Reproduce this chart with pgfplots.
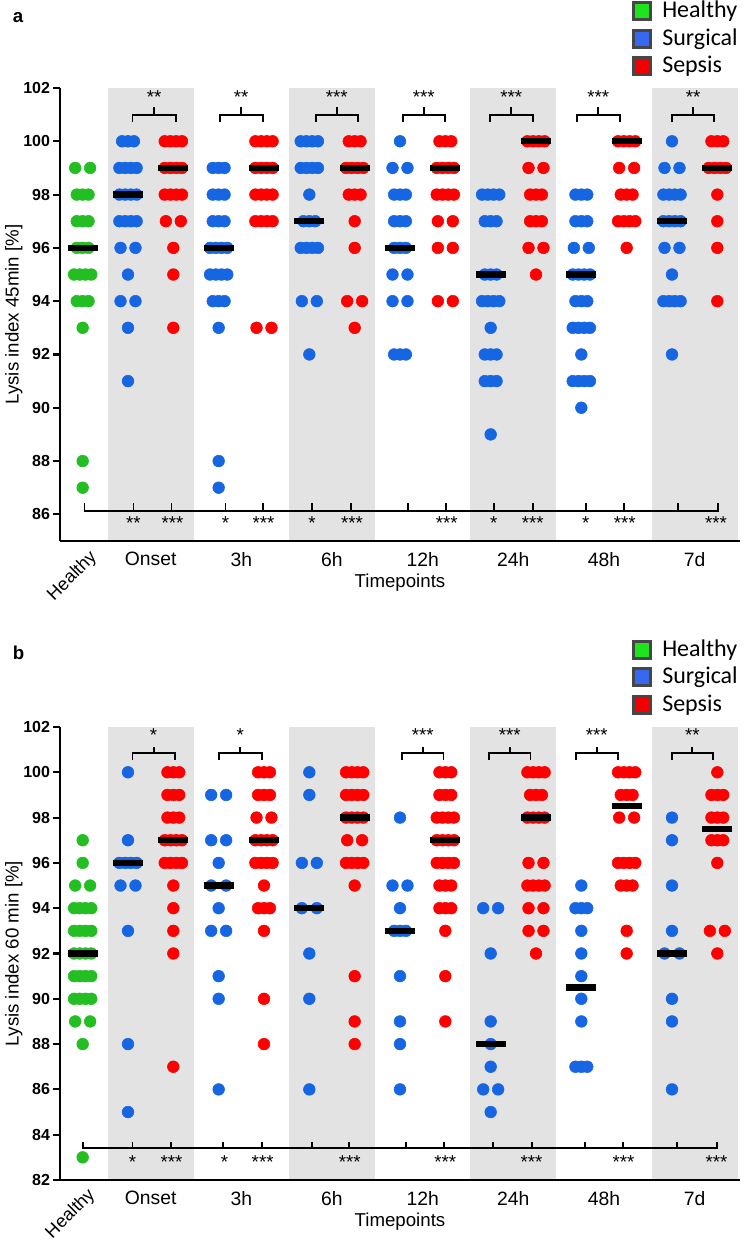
\documentclass[border=0pt]{standalone}
\usepackage{pgfplots}
\pgfplotsset{compat=1.18}
\usepackage{fontspec}
\setmainfont{Liberation Sans}
\newfontfamily\calibri{Carlito}
\definecolor{dgreen}{RGB}{34,190,34}
\definecolor{dblue}{RGB}{22,101,226}
\definecolor{dred}{RGB}{255,0,0}
\definecolor{bandgray}{RGB}{227,227,227}
\definecolor{lgreen}{RGB}{30,228,30}
\definecolor{lblue}{RGB}{55,105,240}
\definecolor{lred}{RGB}{240,0,0}
\definecolor{lborder}{RGB}{70,70,70}
\tikzset{starnode/.style={font=\fontsize{14}{16}\selectfont, inner sep=0pt, anchor=center}}
\pgfplotsset{
  panel/.style={
    scale only axis, width=510pt, height=339.75pt, anchor=south west,
    xmin=-0.5, xmax=14.5,
    axis x line*=bottom, axis y line*=left,
    axis line style={line width=1.6pt},
    every tick/.style={black, line width=1.6pt},
    tick align=outside, major tick length=5pt,
    xtick={1.5,3.5,5.5,7.5,9.5,11.5,13.5},
    xticklabels={Onset,3h,6h,12h,24h,48h,7d},
    x tick style={draw=none},
    xticklabel style={font=\fontsize{14.5}{17}\selectfont},
    yticklabel style={font=\fontsize{12}{14}\selectfont\bfseries, xshift=1pt},
    /pgf/number format/assume math mode=true,
    xlabel={Timepoints},
    xlabel style={font=\fontsize{14}{17}\selectfont, at={(axis description cs:0.5,-0.093)}, anchor=center},
    ylabel style={font=\fontsize{14}{17}\selectfont, at={(axis description cs:-0.068,0.5)}, anchor=center},
    clip=false, axis on top,
  },
  dot/.style={only marks, mark=*, mark size=4.4pt, color=#1, mark options={fill=#1, draw=none}},
  med/.style={only marks, mark=-, mark size=11.25pt, mark options={line width=4.8pt, draw=black}},
  brk/.style={black, line width=1.4pt, mark=none},
  band/.style={draw=none, fill=bandgray},
}
\newcommand{\topbr}[8]{%
  \addplot[brk] coordinates {(#1,#5) (#1,#6) (#2,#6) (#2,#5)};
  \addplot[brk] coordinates {(#3,#6) (#3,#7)};
  \node[starnode] at (axis cs:#3,#8) {#4};}
\begin{document}
\begin{tikzpicture}[x=0.75pt,y=0.75pt]
\useasboundingbox (0,0) rectangle (743,1240);
% ---------------- panel a ----------------
\begin{axis}[panel, at={(45pt,524.25pt)}, ymin=85, ymax=102, ytick={86,88,...,102},
  ylabel={Lysis index 45min [\%]}]
\addplot[band] coordinates {(0.55,85)(2.45,85)(2.45,102)(0.55,102)} -- cycle;
\addplot[band] coordinates {(4.55,85)(6.45,85)(6.45,102)(4.55,102)} -- cycle;
\addplot[band] coordinates {(8.55,85)(10.45,85)(10.45,102)(8.55,102)} -- cycle;
\addplot[band] coordinates {(12.55,85)(14.45,85)(14.45,102)(12.55,102)} -- cycle;
% Healthy
\addplot[dot=dgreen] coordinates {
(-0.165,99)(0.165,99)
(-0.13,98)(0,98)(0.13,98)
(-0.13,97)(0,97)(0.13,97)
(-0.13,96)(0,96)(0.13,96)
(-0.19,95)(-0.063,95)(0.063,95)(0.19,95)
(-0.13,94)(0,94)(0.13,94)
(0,93)(0,88)(0,87)};
% Surgical
\addplot[dot=dblue] coordinates {
(0.87,100)(1,100)(1.13,100)
(0.81,99)(0.937,99)(1.063,99)(1.19,99)
(0.81,98)(0.937,98)(1.063,98)(1.19,98)
(0.81,97)(0.937,97)(1.063,97)(1.19,97)
(0.835,96)(1.165,96)(1,95)(0.835,94)(1.165,94)(1,93)(1,91)
(2.87,99)(3,99)(3.13,99)
(2.87,98)(3,98)(3.13,98)
(2.87,97)(3,97)(3.13,97)
(2.81,96)(2.937,96)(3.063,96)(3.19,96)
(2.81,95)(2.937,95)(3.063,95)(3.19,95)
(2.87,94)(3,94)(3.13,94)
(3,93)(3,88)(3,87)
(4.81,100)(4.937,100)(5.063,100)(5.19,100)
(4.81,99)(4.937,99)(5.063,99)(5.19,99)
(5,98)
(4.87,97)(5,97)(5.13,97)
(4.81,96)(4.937,96)(5.063,96)(5.19,96)
(4.835,94)(5.165,94)(5,92)
(7,100)(6.835,99)(7.165,99)
(6.87,98)(7,98)(7.13,98)
(6.87,97)(7,97)(7.13,97)
(6.87,96)(7,96)(7.13,96)
(6.835,95)(7.165,95)(6.835,94)(7.165,94)
(6.87,92)(7,92)(7.13,92)
(8.81,98)(8.937,98)(9.063,98)(9.19,98)
(8.87,97)(9,97)(9.13,97)
(8.87,95)(9,95)(9.13,95)
(8.81,94)(8.937,94)(9.063,94)(9.19,94)
(9,93)
(8.87,92)(9,92)(9.13,92)
(8.87,91)(9,91)(9.13,91)
(9,89)
(10.87,98)(11,98)(11.13,98)
(10.87,97)(11,97)(11.13,97)
(10.835,96)(11.165,96)
(10.81,95)(10.937,95)(11.063,95)(11.19,95)
(10.87,94)(11,94)(11.13,94)
(10.81,93)(10.937,93)(11.063,93)(11.19,93)
(11,92)
(10.81,91)(10.937,91)(11.063,91)(11.19,91)
(11,90)
(13,100)(12.835,99)(13.165,99)
(12.81,98)(12.937,98)(13.063,98)(13.19,98)
(12.81,97)(12.937,97)(13.063,97)(13.19,97)
(12.835,96)(13.165,96)(13,95)
(12.81,94)(12.937,94)(13.063,94)(13.19,94)
(13,92)};
% Sepsis
\addplot[dot=dred] coordinates {
(1.81,100)(1.937,100)(2.063,100)(2.19,100)
(1.81,99)(1.937,99)(2.063,99)(2.19,99)
(1.81,98)(1.937,98)(2.063,98)(2.19,98)
(1.835,97)(2.165,97)(2,96)(2,95)(2,93)
(3.81,100)(3.937,100)(4.063,100)(4.19,100)
(3.81,99)(3.937,99)(4.063,99)(4.19,99)
(3.81,98)(3.937,98)(4.063,98)(4.19,98)
(3.81,97)(3.937,97)(4.063,97)(4.19,97)
(3.835,93)(4.165,93)
(5.87,100)(6,100)(6.13,100)
(5.81,99)(5.937,99)(6.063,99)(6.19,99)
(5.87,98)(6,98)(6.13,98)
(6,97)(6,96)(5.835,94)(6.165,94)(6,93)
(7.87,100)(8,100)(8.13,100)
(7.81,99)(7.937,99)(8.063,99)(8.19,99)
(7.81,98)(7.937,98)(8.063,98)(8.19,98)
(7.835,97)(8.165,97)(7.835,96)(8.165,96)(7.835,94)(8.165,94)
(9.81,100)(9.937,100)(10.063,100)(10.19,100)
(9.835,99)(10.165,99)
(9.87,98)(10,98)(10.13,98)
(9.87,97)(10,97)(10.13,97)
(9.835,96)(10.165,96)(10,95)
(11.81,100)(11.937,100)(12.063,100)(12.19,100)
(11.835,99)(12.165,99)
(11.87,98)(12,98)(12.13,98)
(11.81,97)(11.937,97)(12.063,97)(12.19,97)
(12,96)
(13.87,100)(14,100)(14.13,100)
(13.81,99)(13.937,99)(14.063,99)(14.19,99)
(14,98)(14,97)(14,96)(14,94)};
% Medians
\addplot[med] coordinates {(0,96)(1,98)(2,99)(3,96)(4,99)(5,97)(6,99)(7,96)(8,99)(9,95)(10,100)(11,95)(12,100)(13,97)(14,99)};
% top brackets
\topbr{1.10}{2.05}{1.575}{**}{100.72}{100.99}{101.29}{101.66}
\topbr{3.02}{3.97}{3.495}{**}{100.72}{100.99}{101.29}{101.66}
\topbr{5.14}{6.07}{5.605}{***}{100.72}{100.99}{101.29}{101.66}
\topbr{7.06}{7.99}{7.525}{***}{100.72}{100.99}{101.29}{101.66}
\topbr{8.98}{9.93}{9.455}{***}{100.72}{100.99}{101.29}{101.66}
\topbr{10.9}{11.85}{11.375}{***}{100.72}{100.99}{101.29}{101.66}
\topbr{13.0}{13.93}{13.465}{**}{100.72}{100.99}{101.29}{101.66}
% bottom bracket
\addplot[brk] coordinates {(0.04,86.41)(0.04,86.11)(14.02,86.11)(14.02,86.41)};
\pgfplotsinvokeforeach{1.12,1.96,3.15,3.97,5.06,5.91,7.17,8.01,9.07,9.93,11.1,11.94,13.13}{
  \addplot[brk] coordinates {(#1,86.11)(#1,86.41)};}
\node[starnode] at (axis cs:1.12,85.66) {**};
\node[starnode] at (axis cs:1.98,85.66) {***};
\node[starnode] at (axis cs:3.15,85.66) {*};
\node[starnode] at (axis cs:3.99,85.66) {***};
\node[starnode] at (axis cs:5.06,85.66) {*};
\node[starnode] at (axis cs:5.94,85.66) {***};
\node[starnode] at (axis cs:8.03,85.66) {***};
\node[starnode] at (axis cs:9.07,85.66) {*};
\node[starnode] at (axis cs:9.93,85.66) {***};
\node[starnode] at (axis cs:11.1,85.66) {*};
\node[starnode] at (axis cs:11.96,85.66) {***};
\node[starnode] at (axis cs:13.97,85.66) {***};
\node[rotate=45, anchor=north east, inner sep=0pt, font=\fontsize{13.5}{16}\selectfont] at (axis cs:0.12,84.72) {Healthy};
\end{axis}
% ---------------- panel b ----------------
\begin{axis}[panel, at={(45pt,45pt)}, ymin=82, ymax=102, ytick={82,84,...,102},
  ylabel={Lysis index 60 min [\%]}]
\addplot[band] coordinates {(0.55,82)(2.45,82)(2.45,102)(0.55,102)} -- cycle;
\addplot[band] coordinates {(4.55,82)(6.45,82)(6.45,102)(4.55,102)} -- cycle;
\addplot[band] coordinates {(8.55,82)(10.45,82)(10.45,102)(8.55,102)} -- cycle;
\addplot[band] coordinates {(12.55,82)(14.45,82)(14.45,102)(12.55,102)} -- cycle;
% Healthy
\addplot[dot=dgreen] coordinates {
(0,97)(0,96)(-0.165,95)(0.165,95)
(-0.19,94)(-0.063,94)(0.063,94)(0.19,94)
(-0.19,93)(-0.063,93)(0.063,93)(0.19,93)
(-0.19,92)(-0.063,92)(0.063,92)(0.19,92)
(-0.19,91)(-0.063,91)(0.063,91)(0.19,91)
(-0.19,90)(-0.063,90)(0.063,90)(0.19,90)
(-0.165,89)(0.165,89)(0,88)(0,83)};
% Surgical
\addplot[dot=dblue] coordinates {
(1,100)(1,97)
(0.81,96)(0.937,96)(1.063,96)(1.19,96)
(0.835,95)(1.165,95)(1,93)(1,88)(1,85)
(2.835,99)(3.165,99)(2.835,97)(3.165,97)(3,96)(2.835,95)(3.165,95)(3,94)
(2.835,93)(3.165,93)(3,91)(3,90)(3,86)
(5,100)(5,99)(4.835,96)(5.165,96)(4.835,94)(5.165,94)(5,92)(5,90)(5,86)
(7,98)(6.835,95)(7.165,95)(7,94)(6.87,93)(7,93)(7.13,93)(7,91)(7,89)(7,88)(7,86)
(8.835,94)(9.165,94)(9,92)(9,89)(9,88)(9,87)(8.835,86)(9.165,86)(9,85)
(11,95)(10.87,94)(11,94)(11.13,94)(11,93)(11,92)(11,91)(11,90)(11,89)
(10.87,87)(11,87)(11.13,87)
(13,98)(13,97)(13,95)(13,93)(12.835,92)(13.165,92)(13,90)(13,89)(13,86)};
% Sepsis
\addplot[dot=dred] coordinates {
(1.87,100)(2,100)(2.13,100)
(1.87,99)(2,99)(2.13,99)
(1.87,98)(2,98)(2.13,98)
(1.81,97)(1.937,97)(2.063,97)(2.19,97)
(1.81,96)(1.937,96)(2.063,96)(2.19,96)
(2,95)(2,94)(2,93)(2,92)(2,87)
(3.87,100)(4,100)(4.13,100)
(3.87,99)(4,99)(4.13,99)
(3.835,98)(4.165,98)
(3.81,97)(3.937,97)(4.063,97)(4.19,97)
(3.81,96)(3.937,96)(4.063,96)(4.19,96)
(4,95)
(3.87,94)(4,94)(4.13,94)
(4,93)(4,90)(4,88)
(5.81,100)(5.937,100)(6.063,100)(6.19,100)
(5.81,99)(5.937,99)(6.063,99)(6.19,99)
(5.81,98)(5.937,98)(6.063,98)(6.19,98)
(5.835,97)(6.165,97)
(5.81,96)(5.937,96)(6.063,96)(6.19,96)
(6,95)(6,91)(6,89)(6,88)
(7.87,100)(8,100)(8.13,100)
(7.87,99)(8,99)(8.13,99)
(7.81,98)(7.937,98)(8.063,98)(8.19,98)
(7.81,97)(7.937,97)(8.063,97)(8.19,97)
(7.81,96)(7.937,96)(8.063,96)(8.19,96)
(7.87,95)(8,95)(8.13,95)
(7.87,94)(8,94)(8.13,94)
(8,93)(8,91)(8,89)
(9.81,100)(9.937,100)(10.063,100)(10.19,100)
(9.87,99)(10,99)(10.13,99)
(9.81,98)(9.937,98)(10.063,98)(10.19,98)
(9.835,96)(10.165,96)
(9.81,95)(9.937,95)(10.063,95)(10.19,95)
(9.835,94)(10.165,94)(9.835,93)(10.165,93)(10,92)
(11.81,100)(11.937,100)(12.063,100)(12.19,100)
(11.87,99)(12,99)(12.13,99)
(11.835,98)(12.165,98)
(11.81,96)(11.937,96)(12.063,96)(12.19,96)
(11.87,95)(12,95)(12.13,95)
(12,93)(12,92)
(14,100)
(13.87,99)(14,99)(14.13,99)
(13.87,98)(14,98)(14.13,98)
(13.87,97)(14,97)(14.13,97)
(14,96)(13.835,93)(14.165,93)(14,92)};
% Medians
\addplot[med] coordinates {(0,92)(1,96)(2,97)(3,95)(4,97)(5,94)(6,98)(7,93)(8,97)(9,88)(10,98)(11,90.5)(12,98.5)(13,92)(14,97.5)};
% top brackets
\topbr{1.10}{2.03}{1.565}{*}{100.54}{100.85}{101.12}{101.65}
\topbr{3.0}{3.95}{3.475}{*}{100.54}{100.85}{101.12}{101.65}
\topbr{7.04}{7.96}{7.5}{***}{100.54}{100.85}{101.12}{101.65}
\topbr{8.96}{9.88}{9.42}{***}{100.54}{100.85}{101.12}{101.65}
\topbr{10.88}{11.8}{11.34}{***}{100.54}{100.85}{101.12}{101.65}
\topbr{13.0}{13.9}{13.45}{**}{100.54}{100.85}{101.12}{101.65}
% bottom bracket
\addplot[brk] coordinates {(0.0,83.68)(0.0,83.41)(14.0,83.41)(14.0,83.68)};
\pgfplotsinvokeforeach{1.1,1.94,3.1,3.95,5.05,5.87,7.13,7.97,9.05,9.91,11.08,11.92,13.11}{
  \addplot[brk] coordinates {(#1,83.41)(#1,83.68)};}
\node[starnode] at (axis cs:1.1,82.79) {*};
\node[starnode] at (axis cs:1.96,82.79) {***};
\node[starnode] at (axis cs:3.13,82.79) {*};
\node[starnode] at (axis cs:3.97,82.79) {***};
\node[starnode] at (axis cs:5.89,82.79) {***};
\node[starnode] at (axis cs:8.0,82.79) {***};
\node[starnode] at (axis cs:9.9,82.79) {***};
\node[starnode] at (axis cs:11.93,82.79) {***};
\node[starnode] at (axis cs:13.98,82.79) {***};
\node[rotate=45, anchor=north east, inner sep=0pt, font=\fontsize{13.5}{16}\selectfont] at (axis cs:0.08,81.72) {Healthy};
\end{axis}
% ---------------- legends and panel letters ----------------
\foreach \c/\col/\txt in {11/lgreen/Healthy, 39/lblue/Surgical, 66/lred/Sepsis, 650/lgreen/Healthy, 677/lblue/Surgical, 705/lred/Sepsis}{
  \filldraw[fill=\col, draw=lborder, line width=2.2pt] (633.5,{1240-\c-8.5}) rectangle (650.5,{1240-\c+8.5});
  \node[anchor=west, inner sep=0pt, font=\calibri\fontsize{18}{20}\selectfont] at (662,{1240-\c}) {\txt};
}
\node[font=\bfseries\fontsize{14}{16}\selectfont] at (18,1222) {a};
\node[font=\bfseries\fontsize{14}{16}\selectfont] at (18.5,587) {b};
\end{tikzpicture}
\end{document}
